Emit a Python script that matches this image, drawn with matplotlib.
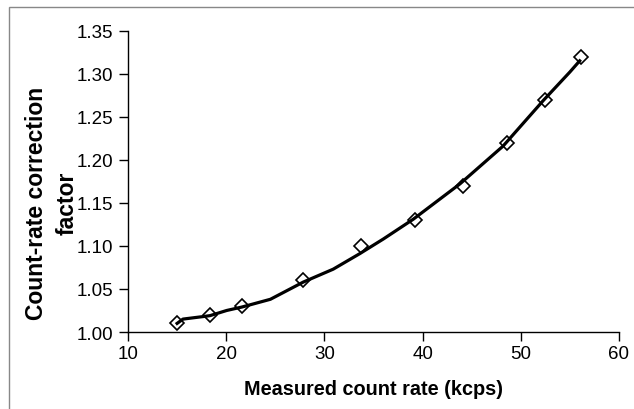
import matplotlib
matplotlib.use("Agg")
import matplotlib.pyplot as plt
from matplotlib.patches import Rectangle

plt.rcParams['font.family'] = ['Liberation Sans', 'DejaVu Sans']

# measured points (diamonds)
rate_meas = [15.0, 18.35, 21.6, 27.85, 33.7, 39.2, 44.1, 48.6, 52.45, 56.1]
factor_meas = [1.01, 1.02, 1.03, 1.06, 1.10, 1.13, 1.17, 1.22, 1.27, 1.32]

# fitted curve
rate_fit = [15.0, 15.6, 17.7, 18.35, 20.05, 21.6, 24.5, 27.85, 30.9, 33.6,
            36.0, 39.05, 43.8, 48.2, 52.3, 55.0, 56.0]
factor_fit = [1.010, 1.015, 1.018, 1.019, 1.025, 1.029, 1.038, 1.058, 1.073,
              1.091, 1.108, 1.131, 1.172, 1.216, 1.269, 1.302, 1.315]

xticks = [10, 20, 30, 40, 50, 60]
yticks = [1.00, 1.05, 1.10, 1.15, 1.20, 1.25, 1.30, 1.35]

fig = plt.figure(figsize=(6.34, 4.10), dpi=100)
ax = fig.add_axes([0.2019, 0.1878, 0.7744, 0.7349])

# outer frame (top and left edges visible)
fig.patches.append(Rectangle((9 / 634, -0.1), 1.2, 1.1 - 8 / 410,
                             transform=fig.transFigure, fill=False,
                             edgecolor='#888888', linewidth=1.0))

ax.plot(rate_meas, factor_meas, linestyle='none', marker='D', markersize=7,
        markerfacecolor='white', markeredgecolor='black', markeredgewidth=1.2,
        zorder=2)
ax.plot(rate_fit, factor_fit, color='black', linewidth=2.3, zorder=3)

ax.set_xlim(10, 60)
ax.set_ylim(1.00, 1.35)
ax.set_xticks(xticks)
ax.set_yticks(yticks)
ax.set_yticklabels([f"{v:.2f}" for v in yticks])

for s in ['top', 'right']:
    ax.spines[s].set_visible(False)
for s in ['left', 'bottom']:
    ax.spines[s].set_linewidth(1.0)
ax.tick_params(axis='both', direction='out', length=6.5, width=1.0,
               labelsize=13.5)
ax.tick_params(axis='x', pad=3)
ax.tick_params(axis='y', pad=4)

ax.set_xlabel('Measured count rate (kcps)', fontsize=14.3, fontweight='bold',
              labelpad=12)
ax.set_ylabel('Count-rate correction\nfactor', fontsize=16.5,
              fontweight='bold', linespacing=1.45)
ax.yaxis.set_label_coords(-0.10, 0.43)

fig.savefig('out.png', dpi=100)
